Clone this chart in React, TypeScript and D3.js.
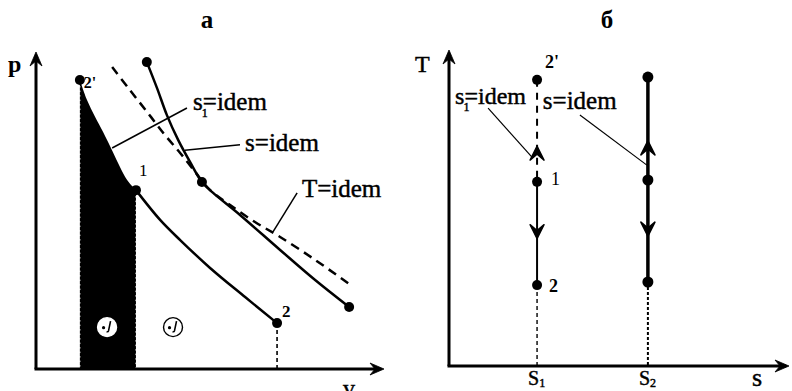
import React from "react";
import * as d3 from "d3";

const W = 792;
const H = 391;

// Panel "a": p–v diagram, relative units
const isentropeS1V = [1.29, 1.5, 1.74, 1.97, 2.26, 2.47, 2.68, 2.94, 3.65, 4.24, 5.12, 6.15, 7.09];
const isentropeS1P = [9.32, 8.68, 8.13, 7.65, 7.0, 6.52, 6.1, 5.77, 4.81, 4.16, 3.26, 2.32, 1.48];
const isentropeSV = [3.26, 3.56, 3.85, 4.18, 4.53, 4.88, 5.21, 6.0, 7.18, 8.21, 9.21];
const isentropeSP = [9.9, 9.06, 8.19, 7.39, 6.68, 6.03, 5.68, 4.97, 3.84, 2.87, 2.0];
const isothermV = [2.24, 2.76, 3.29, 3.79, 4.24, 4.68, 5.12, 5.71, 6.44, 7.18, 8.21, 9.21];
const isothermP = [9.74, 9.0, 8.26, 7.55, 6.97, 6.36, 5.77, 5.29, 4.74, 4.26, 3.52, 2.74];

// indices of the marked states on each curve
const s1States = [0, 7, 12]; // 2', 1, 2
const s1StateLabels = ["2'", "1", "2"];
const sStates = [0, 5, 10];
const workEnd = 7; // shaded work region spans states 2'..1

// work symbols placed on the diagram
const workSymbolV = [2.09, 4.03];
const workSymbolP = [1.35, 1.35];

// Panel "б": T–s diagram
const entropyLabels = ["1", "2"];
const entropyValues = [2.59, 5.85];
const statesT1 = [9.23, 5.94, 2.61]; // 2', 1, 2 at s1
const statesT2 = [9.32, 6.0, 2.71]; // at s2

const FONT = "'Liberation Serif', 'Times New Roman', serif";

type Pt = [number, number];

function Arrow({ x, y, angle, len = 14, half = 6, notch = 9, sw = 0.8 }: { x: number; y: number; angle: number; len?: number; half?: number; notch?: number; sw?: number }) {
  const d = `M0,0 L${-half},${len} L0,${notch} L${half},${len} Z`;
  return <path d={d} transform={`translate(${x},${y}) rotate(${angle})`} fill="#000" stroke="#000" strokeWidth={sw} strokeLinejoin="round" />;
}

function WorkSymbol({ x, y, onDark }: { x: number; y: number; onDark: boolean }) {
  return (
    <g transform={`translate(${x},${y})`}>
      <circle r={9.5} fill="#fff" stroke={onDark ? "#fff" : "#000"} strokeWidth={1.4} />
      <circle cx={-3.5} cy={0.5} r={1.6} fill="#000" />
      <path d="M3.5,-6 L1.5,3.5 Q1,5 -0.5,4.5" fill="none" stroke="#000" strokeWidth={1.6} />
    </g>
  );
}

export default function App() {
  // ---- panel a scales
  const xL = d3.scaleLinear().domain([0, 10]).range([36, 376]);
  const yL = d3.scaleLinear().domain([0, 10]).range([369, 59]);

  const s1Pts: Pt[] = isentropeS1V.map((v, i) => [v, isentropeS1P[i]]);
  const sPts: Pt[] = isentropeSV.map((v, i) => [v, isentropeSP[i]]);
  const tPts: Pt[] = isothermV.map((v, i) => [v, isothermP[i]]);

  const line = d3
    .line<Pt>()
    .x((d) => xL(d[0]))
    .y((d) => yL(d[1]))
    .curve(d3.curveCatmullRom.alpha(0.5));

  const workArea = d3
    .area<Pt>()
    .x((d) => xL(d[0]))
    .y0(yL(0))
    .y1((d) => yL(d[1]))
    .curve(d3.curveCatmullRom.alpha(0.5));

  const workPts = s1Pts.slice(0, workEnd + 1);
  const vLeft = xL(workPts[0][0]);
  const vRight = xL(workPts[workEnd][0]);

  const p2 = s1Pts[12];

  // ---- panel б scales
  const xR = d3.scaleLinear().domain([0, 10]).range([449, 789]);
  const yR = d3.scaleLinear().domain([0, 10]).range([366, 56]);

  const sx1 = xR(entropyValues[0]);
  const sx2 = xR(entropyValues[1]);

  const upTip1 = statesT1[1] + 0.35 * (statesT1[0] - statesT1[1]);
  const downTip1 = statesT1[1] - 0.55 * (statesT1[1] - statesT1[2]);
  const upTip2 = statesT2[1] + 0.38 * (statesT2[0] - statesT2[1]);
  const downTip2 = statesT2[1] - 0.55 * (statesT2[1] - statesT2[2]);

  const labelStyle = { fontFamily: FONT, fill: "#000" } as const;
  const heavy = { stroke: "#000", strokeWidth: 0.45 } as const;

  return (
    <svg width={W} height={H} viewBox={`0 0 ${W} ${H}`} style={{ display: "block", position: "absolute", left: 0, top: 0, background: "#fff" }}>
      <rect width={W} height={H} fill="#fff" />

      {/* ===== panel a ===== */}
      <text x={207} y={28} textAnchor="middle" fontSize={25} fontWeight="bold" {...labelStyle}>а</text>

      {/* shaded work between states 2' and 1 */}
      <path d={workArea(workPts) ?? ""} fill="#000" />
      <line x1={vLeft} x2={vLeft} y1={yL(workPts[0][1]) + 6} y2={yL(0)} stroke="#fff" strokeWidth={1} strokeDasharray="1.5,3" />
      <line x1={vRight} x2={vRight} y1={yL(workPts[workEnd][1]) + 6} y2={yL(0)} stroke="#fff" strokeWidth={1} strokeDasharray="1.5,3" />

      {/* axes */}
      <line x1={xL(0)} y1={yL(0)} x2={xL(0)} y2={56} stroke="#000" strokeWidth={3} />
      <line x1={xL(0) - 1.5} y1={yL(0)} x2={380} y2={yL(0)} stroke="#000" strokeWidth={3} />
      <Arrow x={xL(0)} y={52} angle={0} />
      <Arrow x={384} y={yL(0)} angle={90} />
      <text x={8} y={72} fontSize={24} fontWeight="bold" {...labelStyle}>p</text>
      <text x={343} y={396} fontSize={24} {...labelStyle} {...heavy}>v</text>

      {/* isotherm T = idem */}
      <path d={line(tPts) ?? ""} fill="none" stroke="#000" strokeWidth={2.5} strokeDasharray="9,6" />
      {/* isentropes */}
      <path d={line(s1Pts.slice(workEnd)) ?? ""} fill="none" stroke="#000" strokeWidth={2.5} />
      <path d={line(sPts) ?? ""} fill="none" stroke="#000" strokeWidth={2.5} />

      {/* state 2 drop to the v axis */}
      <line x1={xL(p2[0])} x2={xL(p2[0])} y1={yL(p2[1])} y2={yL(0)} stroke="#000" strokeWidth={1.6} strokeDasharray="4,3" />

      {s1States.map((k) => (
        <circle key={"a" + k} cx={xL(s1Pts[k][0])} cy={yL(s1Pts[k][1])} r={5} fill="#000" />
      ))}
      {sStates.map((k) => (
        <circle key={"b" + k} cx={xL(sPts[k][0])} cy={yL(sPts[k][1])} r={5} fill="#000" />
      ))}

      <text x={xL(s1Pts[0][0]) + 4} y={yL(s1Pts[0][1]) + 8} fontSize={16} fontWeight="bold" {...labelStyle}>{s1StateLabels[0]}</text>
      <text x={xL(s1Pts[7][0]) + 3} y={yL(s1Pts[7][1]) - 14} fontSize={17} {...labelStyle}>{s1StateLabels[1]}</text>
      <text x={xL(p2[0]) + 5} y={yL(p2[1]) - 6} fontSize={17} fontWeight="bold" {...labelStyle}>{s1StateLabels[2]}</text>

      {/* annotations */}
      <line x1={xL(2.24)} y1={yL(7.13)} x2={xL(4.44)} y2={yL(8.42)} stroke="#000" strokeWidth={1.5} />
      <text x={xL(4.62)} y={yL(8.35)} fontSize={25} {...labelStyle} {...heavy}>
        s<tspan fontSize={12} dy={7} dx={-1}>1</tspan>
        <tspan dy={-7} dx={-5}>=idem</tspan>
      </text>
      <line x1={xL(4.38)} y1={yL(7.06)} x2={xL(6.0)} y2={yL(7.23)} stroke="#000" strokeWidth={1.5} />
      <text x={xL(6.15)} y={yL(7.03)} fontSize={25} {...labelStyle} {...heavy}>s=idem</text>
      <line x1={xL(6.97)} y1={yL(4.42)} x2={xL(7.68)} y2={yL(5.68)} stroke="#000" strokeWidth={1.5} />
      <text x={xL(7.82)} y={yL(5.55)} fontSize={25} {...labelStyle} {...heavy}>T=idem</text>

      {workSymbolV.map((v, i) => (
        <WorkSymbol key={"w" + i} x={xL(v)} y={yL(workSymbolP[i])} onDark={i === 0} />
      ))}

      {/* ===== panel б ===== */}
      <text x={607} y={28} textAnchor="middle" fontSize={25} fontWeight="bold" {...labelStyle}>б</text>

      <line x1={xR(0)} y1={yR(0)} x2={xR(0)} y2={54} stroke="#000" strokeWidth={3} />
      <line x1={xR(0) - 1.5} y1={yR(0)} x2={786} y2={yR(0)} stroke="#000" strokeWidth={3} />
      <Arrow x={xR(0)} y={50} angle={0} />
      <Arrow x={789} y={yR(0)} angle={90} />
      <text x={415} y={72} fontSize={24} {...labelStyle} {...heavy}>T</text>
      <text x={752} y={386} fontSize={26} {...labelStyle} {...heavy}>s</text>

      {entropyValues.map((s, i) => (
        <text key={"s" + i} x={xR(s) - 9} y={385} fontSize={20} {...labelStyle} {...heavy}>
          S<tspan fontSize={12} dy={2}>{entropyLabels[i]}</tspan>
        </text>
      ))}

      {/* s1 = idem: compression 1→2' (dashed) and expansion 1→2 */}
      <line x1={sx1} x2={sx1} y1={yR(statesT1[0])} y2={yR(statesT1[1])} stroke="#000" strokeWidth={2} strokeDasharray="7,6" />
      <line x1={sx1} x2={sx1} y1={yR(statesT1[1])} y2={yR(statesT1[2])} stroke="#000" strokeWidth={2} />
      <line x1={sx1} x2={sx1} y1={yR(statesT1[2])} y2={yR(0)} stroke="#000" strokeWidth={1.4} strokeDasharray="4,3" />
      <Arrow x={sx1} y={yR(upTip1)} angle={0} len={14} half={7} notch={8} sw={1.4} />
      <Arrow x={sx1} y={yR(downTip1)} angle={180} len={14} half={7} notch={8} sw={1.4} />

      {/* s = idem */}
      <line x1={sx2} x2={sx2} y1={yR(statesT2[0])} y2={yR(statesT2[2])} stroke="#000" strokeWidth={3.5} />
      <line x1={sx2} x2={sx2} y1={yR(statesT2[2])} y2={yR(0)} stroke="#000" strokeWidth={2} strokeDasharray="3,2" />
      <Arrow x={sx2} y={yR(upTip2)} angle={0} len={14} half={7} notch={8} sw={1.6} />
      <Arrow x={sx2} y={yR(downTip2)} angle={180} len={14} half={7} notch={8} sw={1.6} />

      {statesT1.map((t, i) => (
        <circle key={"c" + i} cx={sx1} cy={yR(t)} r={5} fill="#000" />
      ))}
      {statesT2.map((t, i) => (
        <circle key={"d" + i} cx={sx2} cy={yR(t)} r={5.5} fill="#000" />
      ))}

      <text x={sx1 + 8} y={yR(statesT1[0]) - 12} fontSize={18} fontWeight="bold" {...labelStyle}>{s1StateLabels[0]}</text>
      <text x={sx1 + 14} y={yR(statesT1[1]) + 3} fontSize={18} {...labelStyle}>{s1StateLabels[1]}</text>
      <text x={sx1 + 12} y={yR(statesT1[2]) + 7} fontSize={18} fontWeight="bold" {...labelStyle}>{s1StateLabels[2]}</text>

      <line x1={xR(1.15)} y1={yR(8.32)} x2={xR(2.44)} y2={yR(6.74)} stroke="#000" strokeWidth={1.2} />
      <line x1={xR(3.85)} y1={yR(8.1)} x2={xR(5.82)} y2={yR(6.48)} stroke="#000" strokeWidth={1.2} />
      <text x={xR(0.18)} y={yR(8.45)} fontSize={24} {...labelStyle} {...heavy}>
        s<tspan fontSize={12} dy={7} dx={-1}>1</tspan>
        <tspan dy={-7} dx={-5}>=idem</tspan>
      </text>
      <text x={xR(2.76)} y={yR(8.29)} fontSize={25} {...labelStyle} {...heavy}>s=idem</text>
    </svg>
  );
}
